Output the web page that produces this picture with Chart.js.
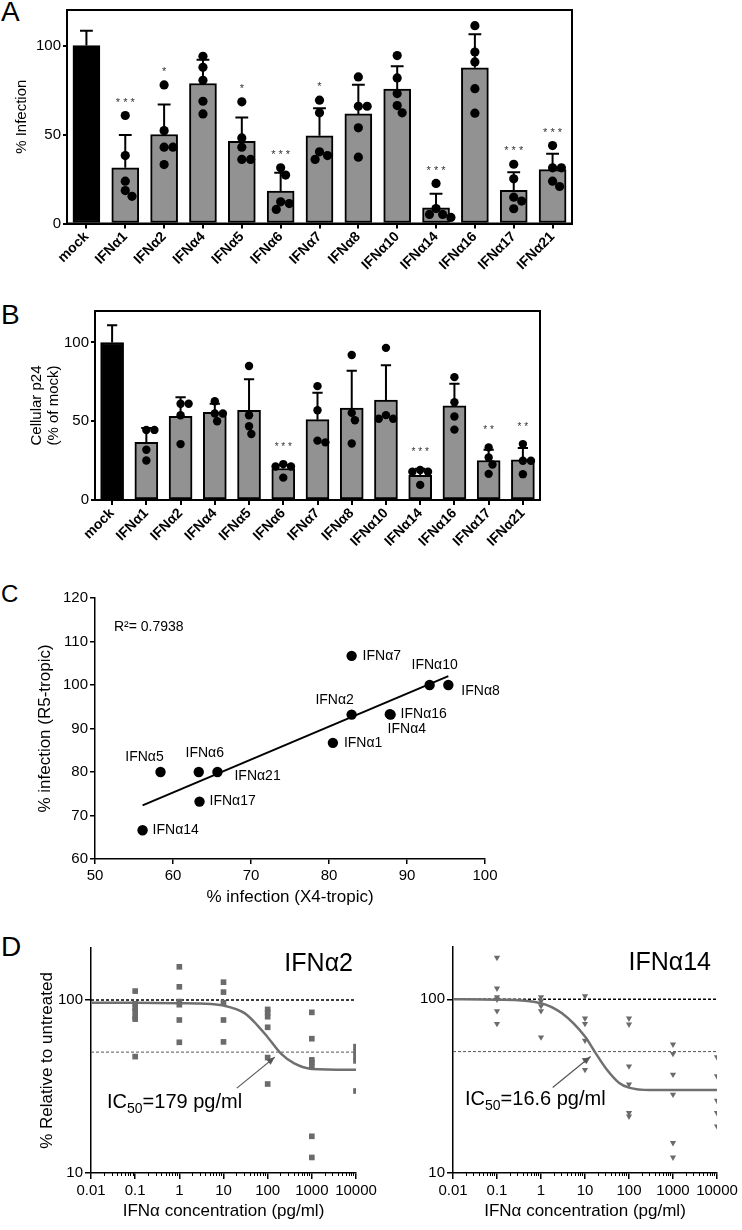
<!DOCTYPE html>
<html><head><meta charset="utf-8">
<script src="https://cdn.jsdelivr.net/npm/chart.js@4.4.1/dist/chart.umd.min.js"></script>
<style>
html,body{margin:0;padding:0;background:#fff;}
body{width:742px;height:1230px;position:relative;overflow:hidden;font-family:'Liberation Sans',Arial,sans-serif;}
canvas{position:absolute;}
.pl{position:absolute;line-height:1;color:#000;font-family:'Liberation Sans',Arial,sans-serif;}
</style></head><body>
<div class="pl" style="left:1px;top:-2px;font-size:28px">A</div>
<div class="pl" style="left:1px;top:301px;font-size:28px">B</div>
<div class="pl" style="left:1px;top:582px;font-size:24px">C</div>
<div class="pl" style="left:1px;top:933px;font-size:28px">D</div>
<canvas id="cA" width="742" height="285" style="left:0;top:0"></canvas>
<canvas id="cB" width="742" height="270" style="left:0;top:290px"></canvas>
<canvas id="cC" width="742" height="335" style="left:0;top:575px"></canvas>
<canvas id="cD1" width="400" height="300" style="left:0;top:930px"></canvas>
<canvas id="cD2" width="371" height="300" style="left:371px;top:930px"></canvas>
<script>
const FONT = "'Liberation Sans', Arial, Helvetica, sans-serif";
Chart.defaults.font.family = FONT;
Chart.defaults.color = '#000';

// ---------- Panel A / B data ----------
const categories = ['mock','IFNα1','IFNα2','IFNα4','IFNα5','IFNα6','IFNα7','IFNα8','IFNα10','IFNα14','IFNα16','IFNα17','IFNα21'];

const infectionMean = [100, 31.3, 50, 78.7, 46.2, 18.2, 49.3, 61.6, 75.6, 8.8, 87.5, 18.7, 30.3];
const infectionSD   = [8.4, 18.5, 16.9, 13.3, 13.4, 10.3, 15.5, 16.4, 12.8, 7.9, 18.8, 10.1, 8.9];
const infectionPoints = [
  [],
  [60.7, 38.2, 23.8, 18.5, 15.3],
  [77.9, 52.2, 42.9, 42.9, 33.1],
  [94, 87.8, 80.5, 68.7, 61.6],
  [68.4, 48.1, 42.9, 36, 36],
  [31.3, 27.2, 12.2, 11.2, 7.9],
  [69.3, 62.2, 40.3, 38.2, 36],
  [82.4, 65.9, 65.9, 53.8, 37.3],
  [94.4, 81.8, 73, 66.3, 62.2],
  [22.5, 8.4, 5.1, 5.1, 3.4],
  [111.2, 96.4, 90.8, 75.8, 62],
  [33.3, 25.1, 14.8, 12.6, 8.3],
  [43.8, 31.3, 31.3, 23.8, 20.8]
];
const infectionSig = ['', '***', '*', '', '*', '***', '*', '', '', '***', '', '***', '***'];

const p24Mean = [100, 36.6, 53.2, 55.7, 57, 20, 51, 58.3, 63.4, 15.7, 59.8, 25.1, 25.5];
const p24SD   = [11, 9.1, 12.1, 5.4, 19.6, 2.3, 17.1, 23.8, 22.1, 4.1, 14, 6.8, 7.5];
const p24Points = [
  [],
  [44.5, 44.5, 31.9, 25.1],
  [61.1, 61.1, 53.8, 35.5],
  [62.7, 54.9, 54.9, 50],
  [85.1, 53.8, 46.8, 41.9],
  [22.8, 21.3, 21.3, 14.2],
  [72.3, 57, 37.7, 36.6],
  [92.1, 55.3, 50.6, 35.9],
  [96.6, 53.9, 51.6, 51.6],
  [19.1, 17.9, 17.9, 9.6],
  [78, 62.1, 53, 44.7],
  [33.4, 27, 22.5, 16.6],
  [35.5, 24.9, 24.9, 16.4]
];
const p24Sig = ['', '', '', '', '', '***', '', '', '', '***', '', '**', '**'];
const barYTicks = [0, 50, 100];

// ---------- Panel C data ----------
const cLabels = ['IFNα1','IFNα2','IFNα4','IFNα5','IFNα6','IFNα7','IFNα8','IFNα10','IFNα14','IFNα16','IFNα17','IFNα21'];
const x4Infection = [80.5, 82.9, 87.8, 58.4, 63.3, 82.9, 95.3, 92.9, 56.1, 87.9, 63.4, 65.7];
const r5Infection = [86.7, 93.2, 93.3, 80, 80, 106.7, 100, 100, 66.6, 93.2, 73.2, 80];

// ---------- Panel D data ----------
const doseLevels = [0.1, 1, 10, 100, 1000, 10000];
const ifna2Response = [
  [112.7, 95, 90, 86, 80, 77.6, 47.1],
  [155.7, 119.3, 98, 94, 76.7, 57],
  [126.9, 111.2, 96.5, 76.7, 57.3],
  [88.3, 84.5, 80.1, 69.6, 46.5, 32.7],
  [84.9, 59.8, 45.1, 43.5, 41.2, 16.3, 12.3],
  [53.8, 50.3, 47.1, 44.5, 29.8]
];
const ifna14Response = [
  [173.9, 115.7, 103, 100, 85.6, 72.3],
  [103, 97.8, 91.5, 85.6, 60.5],
  [104.5, 77.6, 72.3, 57.9, 44.8, 39.3],
  [77.6, 71.8, 41.2, 32.4, 22.2, 21.2],
  [55, 48.6, 36.9, 28.3, 14.9, 12.3],
  [46.5, 36.1, 26.1, 22.2, 18.6]
];
const ifna2CurveX = [0.01, 0.1, 1, 3, 10, 30, 60, 100, 200, 400, 1000, 10000];
const ifna2CurveY = [96.5, 96.5, 96, 95.5, 93, 84, 71, 61, 49, 43, 40, 39.5];
const ifna14CurveX = [0.01, 0.1, 1, 3, 10, 16.6, 30, 60, 100, 300, 1000, 10000];
const ifna14CurveY = [100, 99.5, 95, 83, 61, 50, 40, 33, 31, 30, 30, 30];
const ifna2IC50 = 179;
const ifna14IC50 = 16.6;
const doseTicks = [0.01, 0.1, 1, 10, 100, 1000, 10000];
const respTicks = [10, 100];

// ---------- helpers ----------
const fix = (w, h) => s => {
  if (w != null) s.width = w;
  if (h != null) s.height = h;
  s.paddingLeft = 0; s.paddingRight = 0; s.paddingTop = 0; s.paddingBottom = 0;
};
function swarm(vals, pxPerUnit, pxPerCat, diam) {
  const order = vals.map((v, i) => i).sort((a, b) => vals[b] - vals[a]);
  const placed = [], off = new Array(vals.length).fill(0);
  const d2 = diam * diam * 0.92;
  for (const i of order) {
    const y = vals[i] * pxPerUnit;
    const cands = [0];
    for (const p of placed) {
      const dy = Math.abs(p.y - y);
      if (dy * dy < d2) { const dx = Math.sqrt(d2 - dy * dy); cands.push(p.x + dx, p.x - dx); }
    }
    cands.sort((a, b) => Math.abs(a) - Math.abs(b));
    let x = 0;
    for (const c of cands) {
      if (placed.every(p => (p.x - c) ** 2 + (p.y - y) ** 2 >= d2 - 0.01)) { x = c; break; }
    }
    placed.push({x, y});
    off[i] = x / pxPerCat;
  }
  return off;
}
function swarmData(groups, pxPerUnit, pxPerCat, diam) {
  const out = [];
  groups.forEach((vals, g) => {
    const off = swarm(vals, pxPerUnit, pxPerCat, diam);
    vals.forEach((v, k) => out.push({x: g + off[k], y: v}));
  });
  return out;
}
function errData(means, sds, cap) {
  const d = [];
  means.forEach((m, i) => {
    const t = m + sds[i];
    d.push({x: i, y: m}, {x: i, y: t}, {x: i, y: null}, {x: i - cap, y: t}, {x: i + cap, y: t}, {x: i, y: null});
  });
  return d;
}
const framePlugin = {id: 'frame', afterDraw(chart) {
  const {ctx, chartArea: a} = chart;
  ctx.save(); ctx.strokeStyle = '#000'; ctx.lineWidth = 2;
  ctx.strokeRect(a.left, a.top, a.right - a.left, a.bottom - a.top);
  ctx.restore();
}};
function sigPlugin(o) {
  return {id: 'sig', afterDatasetsDraw(chart) {
    const ctx = chart.ctx, xs = chart.scales.x, ys = chart.scales.y;
    ctx.save(); ctx.fillStyle = '#333'; ctx.font = o.sigFont + 'px ' + FONT;
    ctx.textAlign = 'center'; ctx.textBaseline = 'middle';
    o.sig.forEach((s, i) => {
      if (!s) return;
      const top = Math.max(o.mean[i] + o.sd[i], ...o.pts[i]);
      ctx.fillText(s.split('').join(' '), xs.getPixelForValue(i), ys.getPixelForValue(top) - o.sigGap);
    });
    ctx.restore();
  }};
}

const BAR_GREY = '#929292';
function barChart(id, o) {
  const plotH = o.canvasH - o.top - o.xh;
  const plotW = 742 - o.yw - o.right;
  return new Chart(document.getElementById(id), {
    type: 'bar',
    data: {datasets: [
      {type: 'bar', data: o.mean.map((m, i) => ({x: i, y: m})),
       backgroundColor: o.mean.map((_, i) => i === 0 ? '#000' : BAR_GREY),
       borderColor: '#000', borderWidth: 2, borderSkipped: false, barThickness: o.barW, order: 3},
      {type: 'scatter', data: errData(o.mean, o.sd, o.cap),
       showLine: true, borderColor: '#000', borderWidth: 2, pointRadius: 0, spanGaps: false, order: 2},
      {type: 'scatter', data: swarmData(o.pts, plotH / 120, plotW / categories.length, o.dotR * 2),
       pointRadius: o.dotR, pointBackgroundColor: '#000', pointBorderWidth: 0, order: 1}
    ]},
    options: {
      responsive: false, devicePixelRatio: 1, animation: false, events: [],
      layout: {padding: {left: 0, top: o.top, right: o.right, bottom: 0}},
      plugins: {legend: {display: false}, tooltip: {enabled: false}},
      scales: {
        x: {type: 'linear', min: -0.5, max: categories.length - 0.5, offset: false, bounds: 'data',
            afterBuildTicks: s => { s.ticks = categories.map((_, i) => ({value: i})); },
            grid: {display: true, drawOnChartArea: false, offset: false, tickLength: 5, color: '#000', lineWidth: 2},
            border: {display: true, color: '#000', width: 2},
            ticks: {autoSkip: false, minRotation: 45, maxRotation: 45, padding: 1, color: '#000',
                    callback: v => categories[v], font: {size: 14, weight: 'bold', lineHeight: 1}},
            afterFit: fix(null, o.xh)},
        y: {type: 'linear', min: 0, max: 120, bounds: 'data',
            afterBuildTicks: s => { s.ticks = barYTicks.map(v => ({value: v})); },
            grid: {drawOnChartArea: false, tickLength: 4, color: '#000', lineWidth: 2},
            border: {display: true, color: '#000', width: 2},
            ticks: {padding: 2, color: '#000', font: {size: 15, lineHeight: 1}},
            title: {display: true, text: o.yTitle, color: '#000', font: {size: 15, lineHeight: 1.1},
                    padding: {top: o.titlePad, bottom: 0}},
            afterFit: fix(o.yw, null)}
      }
    },
    plugins: [framePlugin, sigPlugin(o)]
  });
}

barChart('cA', {mean: infectionMean, sd: infectionSD, pts: infectionPoints, sig: infectionSig,
  canvasH: 285, top: 10, xh: 61.5, yw: 67, right: 170, barW: 27, cap: 0.165, dotR: 4.6,
  sigGap: 13, sigFont: 11, yTitle: '% Infection', titlePad: 14});

barChart('cB', {mean: p24Mean, sd: p24SD, pts: p24Points, sig: p24Sig,
  canvasH: 270, top: 21, xh: 60, yw: 95, right: 202, barW: 23, cap: 0.15, dotR: 4.2,
  sigGap: 17, sigFont: 10, yTitle: ['Cellular p24', '(% of mock)'], titlePad: 29});

// ---------- Panel C ----------
(function () {
  const n = x4Infection.length;
  const mx = x4Infection.reduce((a, b) => a + b, 0) / n;
  const my = r5Infection.reduce((a, b) => a + b, 0) / n;
  let sxy = 0, sxx = 0;
  for (let i = 0; i < n; i++) { sxy += (x4Infection[i] - mx) * (r5Infection[i] - my); sxx += (x4Infection[i] - mx) ** 2; }
  const slope = sxy / sxx, icpt = my - slope * mx;
  const x0 = Math.min(...x4Infection), x1 = Math.max(...x4Infection);
  const regLine = [{x: x0, y: icpt + slope * x0}, {x: x1, y: icpt + slope * x1}];
  const labelOffset = [[11,0,'left'],[-17,-14,'center'],[17,15,'center'],[-16,-15,'center'],[6,-19,'center'],[11,0,'left'],
                       [13,6,'left'],[5,-20,'center'],[10,0,'left'],[10,0,'left'],[10,0,'left'],[17,4,'left']];
  const cText = {id: 'cText', afterDatasetsDraw(chart) {
    const {ctx, chartArea: a} = chart; const xs = chart.scales.x, ys = chart.scales.y;
    ctx.save(); ctx.fillStyle = '#000'; ctx.font = '14px ' + FONT; ctx.textBaseline = 'middle';
    cLabels.forEach((t, i) => {
      const [dx, dy, al] = labelOffset[i];
      ctx.textAlign = al;
      ctx.fillText(t, xs.getPixelForValue(x4Infection[i]) + dx, ys.getPixelForValue(r5Infection[i]) + dy);
    });
    ctx.textAlign = 'left';
    ctx.fillText('R²= 0.7938', a.left + 19, a.top + 29);
    ctx.restore();
  }};
  new Chart(document.getElementById('cC'), {
    type: 'scatter',
    data: {datasets: [
      {data: x4Infection.map((x, i) => ({x, y: r5Infection[i]})), pointRadius: 5.2,
       pointBackgroundColor: '#000', pointBorderWidth: 0, order: 1},
      {data: regLine, showLine: true, borderColor: '#000', borderWidth: 2, pointRadius: 0, order: 2}
    ]},
    options: {
      responsive: false, devicePixelRatio: 1, animation: false, events: [],
      layout: {padding: {left: 0, top: 23, right: 257, bottom: 0}},
      plugins: {legend: {display: false}, tooltip: {enabled: false}},
      scales: {
        x: {type: 'linear', min: 50, max: 100,
            ticks: {stepSize: 10, padding: 4, color: '#000', font: {size: 15, lineHeight: 1}},
            grid: {drawOnChartArea: false, tickLength: 5, color: '#000', lineWidth: 1.5},
            border: {color: '#000', width: 1.5},
            title: {display: true, text: '% infection (X4-tropic)', color: '#000', font: {size: 17, lineHeight: 1.2}, padding: {top: 0, bottom: 2}},
            afterFit: fix(null, 51)},
        y: {type: 'linear', min: 60, max: 120,
            ticks: {stepSize: 10, padding: 2, color: '#000', font: {size: 15, lineHeight: 1}},
            grid: {drawOnChartArea: false, tickLength: 5, color: '#000', lineWidth: 1.5},
            border: {color: '#000', width: 1.5},
            title: {display: true, text: '% infection (R5-tropic)', color: '#000', font: {size: 17, lineHeight: 1.2}, padding: {top: 35, bottom: 0}},
            afterFit: fix(95, null)}
      }
    },
    plugins: [cText]
  });
})();

// ---------- Panel D ----------
const DOSE_GREY = '#6b6b6b';
const minorTicks = [];
doseTicks.slice(0, -1).forEach(d => { for (let k = 2; k <= 9; k++) minorTicks.push(d * k); });

function doseChart(id, o) {
  const pts = [];
  o.resp.forEach((vals, i) => vals.forEach(v => pts.push({x: doseLevels[i], y: v})));
  const curve = o.cx.map((x, i) => ({x, y: o.cy[i]}));
  const textPlugin = {id: 'doseText', afterDatasetsDraw(chart) {
    const {ctx, chartArea: a} = chart; const xs = chart.scales.x, ys = chart.scales.y;
    ctx.save();
    ctx.fillStyle = '#000'; ctx.font = '25px ' + FONT; ctx.textAlign = 'right'; ctx.textBaseline = 'middle';
    ctx.fillText(o.name, a.right - o.nameInset, a.top + 16);
    const tx = a.left + o.icDx, ty = a.bottom - o.icDy;
    ctx.textAlign = 'left'; ctx.textBaseline = 'alphabetic';
    ctx.font = '20px ' + FONT; ctx.fillText('IC', tx, ty); let w = ctx.measureText('IC').width;
    ctx.font = '14px ' + FONT; ctx.fillText('50', tx + w, ty + 5); w += ctx.measureText('50').width;
    ctx.font = '20px ' + FONT; ctx.fillText('=' + o.ic50 + ' pg/ml', tx + w, ty);
    const hx = xs.getPixelForValue(o.ic50) - 4, hy = ys.getPixelForValue(50) + 5;
    const sx = hx - 38, sy = hy + 31;
    ctx.strokeStyle = '#555'; ctx.fillStyle = '#555'; ctx.lineWidth = 1.2;
    ctx.beginPath(); ctx.moveTo(sx, sy); ctx.lineTo(hx, hy); ctx.stroke();
    const ang = Math.atan2(hy - sy, hx - sx), L = 8, W = 3.2;
    ctx.beginPath(); ctx.moveTo(hx, hy);
    ctx.lineTo(hx - L * Math.cos(ang) + W * Math.sin(ang), hy - L * Math.sin(ang) - W * Math.cos(ang));
    ctx.lineTo(hx - L * Math.cos(ang) - W * Math.sin(ang), hy - L * Math.sin(ang) + W * Math.cos(ang));
    ctx.closePath(); ctx.fill();
    ctx.restore();
  }};
  new Chart(document.getElementById(id), {
    type: 'scatter',
    data: {datasets: [
      {data: pts, pointStyle: o.marker, pointRadius: o.r, pointRotation: o.rot,
       pointBackgroundColor: DOSE_GREY, pointBorderColor: DOSE_GREY, pointBorderWidth: 0, order: 1},
      {data: curve, showLine: true, cubicInterpolationMode: 'monotone', borderColor: '#707070',
       borderWidth: 2.5, pointRadius: 0, order: 2},
      {data: [{x: doseTicks[0], y: 100}, {x: doseTicks[doseTicks.length - 1], y: 100}], showLine: true,
       borderColor: '#000', borderWidth: 1.5, borderDash: [3, 2], pointRadius: 0, order: 3},
      {data: [{x: doseTicks[0], y: 50}, {x: doseTicks[doseTicks.length - 1], y: 50}], showLine: true,
       borderColor: '#555', borderWidth: 1, borderDash: [3, 2], pointRadius: 0, order: 3}
    ]},
    options: {
      responsive: false, devicePixelRatio: 1, animation: false, events: [],
      layout: {padding: {left: 0, top: o.top, right: o.right, bottom: 0}},
      plugins: {legend: {display: false}, tooltip: {enabled: false}},
      scales: {
        x: {type: 'logarithmic', position: 'bottom', min: 0.01, max: 10000, weight: 1,
            afterBuildTicks: s => { s.ticks = doseTicks.map(v => ({value: v})); },
            ticks: {autoSkip: false, maxRotation: 0, minRotation: 0, callback: v => String(v),
                    padding: 4, color: '#000', font: {size: 15, lineHeight: 1}},
            grid: {drawOnChartArea: false, tickLength: 6, color: '#000', lineWidth: 1.5},
            border: {color: '#000', width: 1.5},
            title: {display: true, text: 'IFNα concentration (pg/ml)', color: '#000',
                    font: {size: 17, lineHeight: 1.2}, padding: {top: 0, bottom: 8}},
            afterFit: fix(null, 57)},
        xm: {type: 'logarithmic', position: 'bottom', min: 0.01, max: 10000, weight: 0,
             afterBuildTicks: s => { s.ticks = minorTicks.map(v => ({value: v})); },
             ticks: {display: false},
             grid: {drawOnChartArea: false, tickLength: 3, color: '#000', lineWidth: 1},
             border: {display: false},
             afterFit: fix(null, 0)},
        y: {type: 'logarithmic', min: 10, max: 200,
            afterBuildTicks: s => { s.ticks = respTicks.map(v => ({value: v})); },
            ticks: {callback: v => String(v), padding: 2, color: '#000', font: {size: 15, lineHeight: 1}},
            grid: {drawOnChartArea: false, tickLength: 6, color: '#000', lineWidth: 1.5},
            border: {color: '#000', width: 1.5},
            title: o.yTitle ? {display: true, text: o.yTitle, color: '#000', font: {size: 17, lineHeight: 1.2},
                               padding: {top: 37, bottom: 0}} : {display: false},
            afterFit: fix(o.yw, null)}
      }
    },
    plugins: [textPlugin]
  });
}

doseChart('cD1', {resp: ifna2Response, cx: ifna2CurveX, cy: ifna2CurveY, marker: 'rect', r: 4, rot: 0,
  top: 18, right: 44, yw: 91, yTitle: '% Relative to untreated', name: 'IFNα2', nameInset: 3,
  ic50: ifna2IC50, icDx: 16, icDy: 65});
doseChart('cD2', {resp: ifna14Response, cx: ifna14CurveX, cy: ifna14CurveY, marker: 'triangle', r: 3.6, rot: 180,
  top: 17, right: 25, yw: 82, yTitle: null, name: 'IFNα14', nameInset: 6,
  ic50: ifna14IC50, icDx: 12, icDy: 68});
</script>
</body></html>
